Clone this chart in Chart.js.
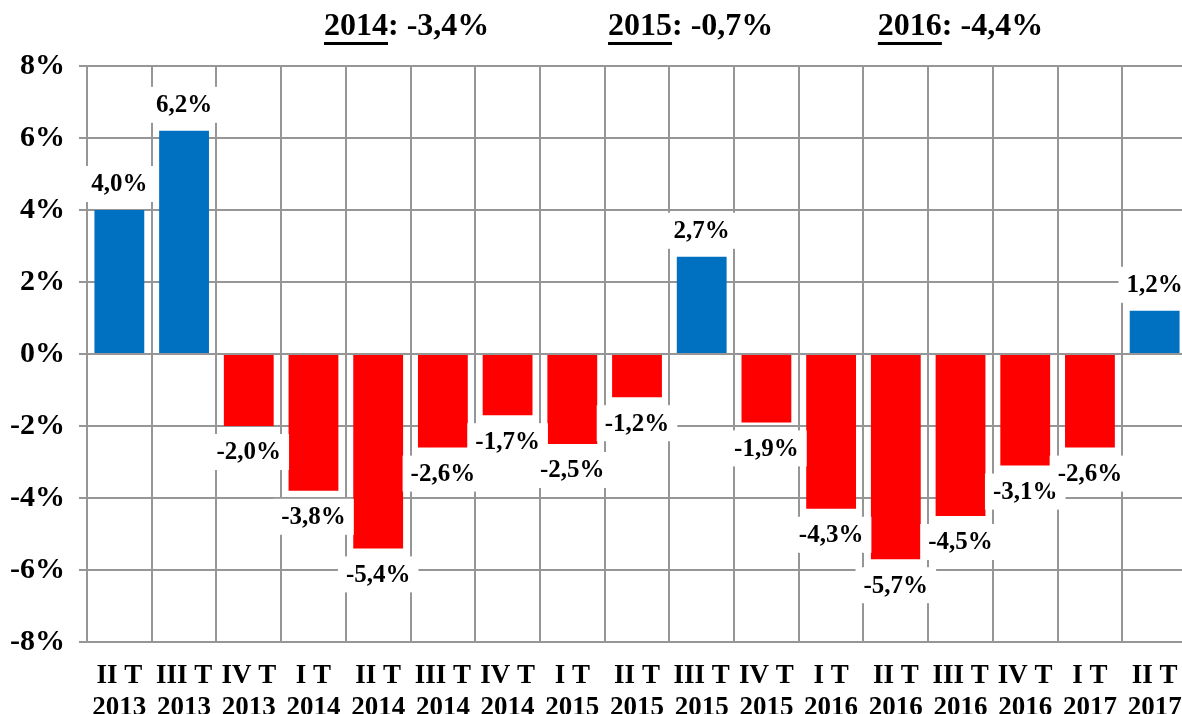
<!DOCTYPE html>
<html>
<head>
<meta charset="utf-8">
<script src="https://cdn.jsdelivr.net/npm/chart.js@4"></script>
<style>
  html, body { margin: 0; padding: 0; background: #fff; overflow: hidden; }
  #wrap { width: 1187px; height: 714px; }
</style>
</head>
<body>
<div id="wrap"><canvas id="bar-chart" width="1187" height="714"></canvas></div>
<script>
const quarters = ["II T", "III T", "IV T", "I T", "II T", "III T", "IV T", "I T", "II T", "III T", "IV T", "I T", "II T", "III T", "IV T", "I T", "II T"]
const years = ["2013", "2013", "2013", "2014", "2014", "2014", "2014", "2015", "2015", "2015", "2015", "2016", "2016", "2016", "2016", "2017", "2017"]
const growth = [4.0, 6.2, -2.0, -3.8, -5.4, -2.6, -1.7, -2.5, -1.2, 2.7, -1.9, -4.3, -5.7, -4.5, -3.1, -2.6, 1.2]

const summaryYears = ["2014", "2015", "2016"]
const summaryValues = ["-3,4%", "-0,7%", "-4,4%"]

const serif = "'Liberation Serif', 'Times New Roman', serif"
const fmt = (v) => v.toFixed(1).replace(".", ",") + "%"

// value labels in white boxes, above positive bars and below negative ones
const valueLabels = {
  id: "valueLabels",
  afterDatasetsDraw(chart) {
    const ctx = chart.ctx
    const meta = chart.getDatasetMeta(0)
    ctx.save()
    ctx.font = "bold 25px " + serif
    ctx.textAlign = "center"
    ctx.textBaseline = "middle"
    meta.data.forEach((bar, i) => {
      const v = growth[i]
      const txt = fmt(v)
      const w = ctx.measureText(txt).width + 16
      const h = 36
      const cy = v >= 0 ? bar.y - 26 : bar.y + 26
      ctx.fillStyle = "#fff"
      ctx.fillRect(bar.x - w / 2, cy - h / 2, w, h)
      ctx.fillStyle = "#000"
      ctx.fillText(txt, bar.x, cy + 1)
    })
    ctx.restore()
  },
}

// yearly totals over the chart, year underlined
const yearTotals = {
  id: "yearTotals",
  afterDraw(chart, args, opts) {
    const ctx = chart.ctx
    const x = chart.scales.x
    ctx.save()
    ctx.font = "bold 32px " + serif
    ctx.textBaseline = "alphabetic"
    ctx.fillStyle = "#000"
    summaryYears.forEach((yr, i) => {
      const rest = ": " + summaryValues[i]
      const wYear = ctx.measureText(yr).width
      const wAll = wYear + ctx.measureText(rest).width
      const cx = x.getPixelForValue(opts.at[i])
      const left = cx - wAll / 2
      const base = 35
      ctx.textAlign = "left"
      ctx.fillText(yr, left, base)
      ctx.fillText(rest, left + wYear, base)
      ctx.fillRect(left, base + 7, wYear, 3)
    })
    ctx.restore()
  },
}

const ctx = document.getElementById("bar-chart")

const barChart = new Chart(ctx, {
  type: "bar",
  data: {
    labels: quarters.map((q, i) => [q, years[i]]),
    datasets: [
      {
        data: growth,
        backgroundColor: growth.map((v) => (v >= 0 ? "#0070C0" : "#FF0000")),
        borderWidth: 0,
        barPercentage: 0.77,
        categoryPercentage: 1,
      },
    ],
  },
  options: {
    responsive: false,
    animation: false,
    layout: { padding: { top: 66, right: 0, left: 0, bottom: 0 } },
    plugins: {
      legend: { display: false },
      tooltip: { enabled: false },
      yearTotals: { at: [4.44, 8.83, 13.0] },
    },
    scales: {
      x: {
        grid: { color: "#969696", lineWidth: 2, drawTicks: false, offset: true },
        border: { color: "#969696", width: 2 },
        ticks: {
          color: "#000",
          font: { family: serif, size: 27, weight: "bold", lineHeight: 1.15 },
          padding: 19,
          autoSkip: false,
          maxRotation: 0,
        },
        afterFit(scale) {
          scale.height = 72
          scale.paddingLeft = 0
          scale.paddingRight = 0
        },
      },
      y: {
        min: -8,
        max: 8,
        grid: { color: "#969696", lineWidth: 2, tickLength: 8 },
        border: { color: "#969696", width: 2 },
        ticks: {
          stepSize: 2,
          color: "#000",
          font: { family: serif, size: 30, weight: "bold" },
          padding: 14,
          callback: (v) => v + "%",
        },
        afterFit(scale) {
          scale.width = 87
        },
      },
    },
  },
  plugins: [valueLabels, yearTotals],
})
</script>
</body>
</html>
